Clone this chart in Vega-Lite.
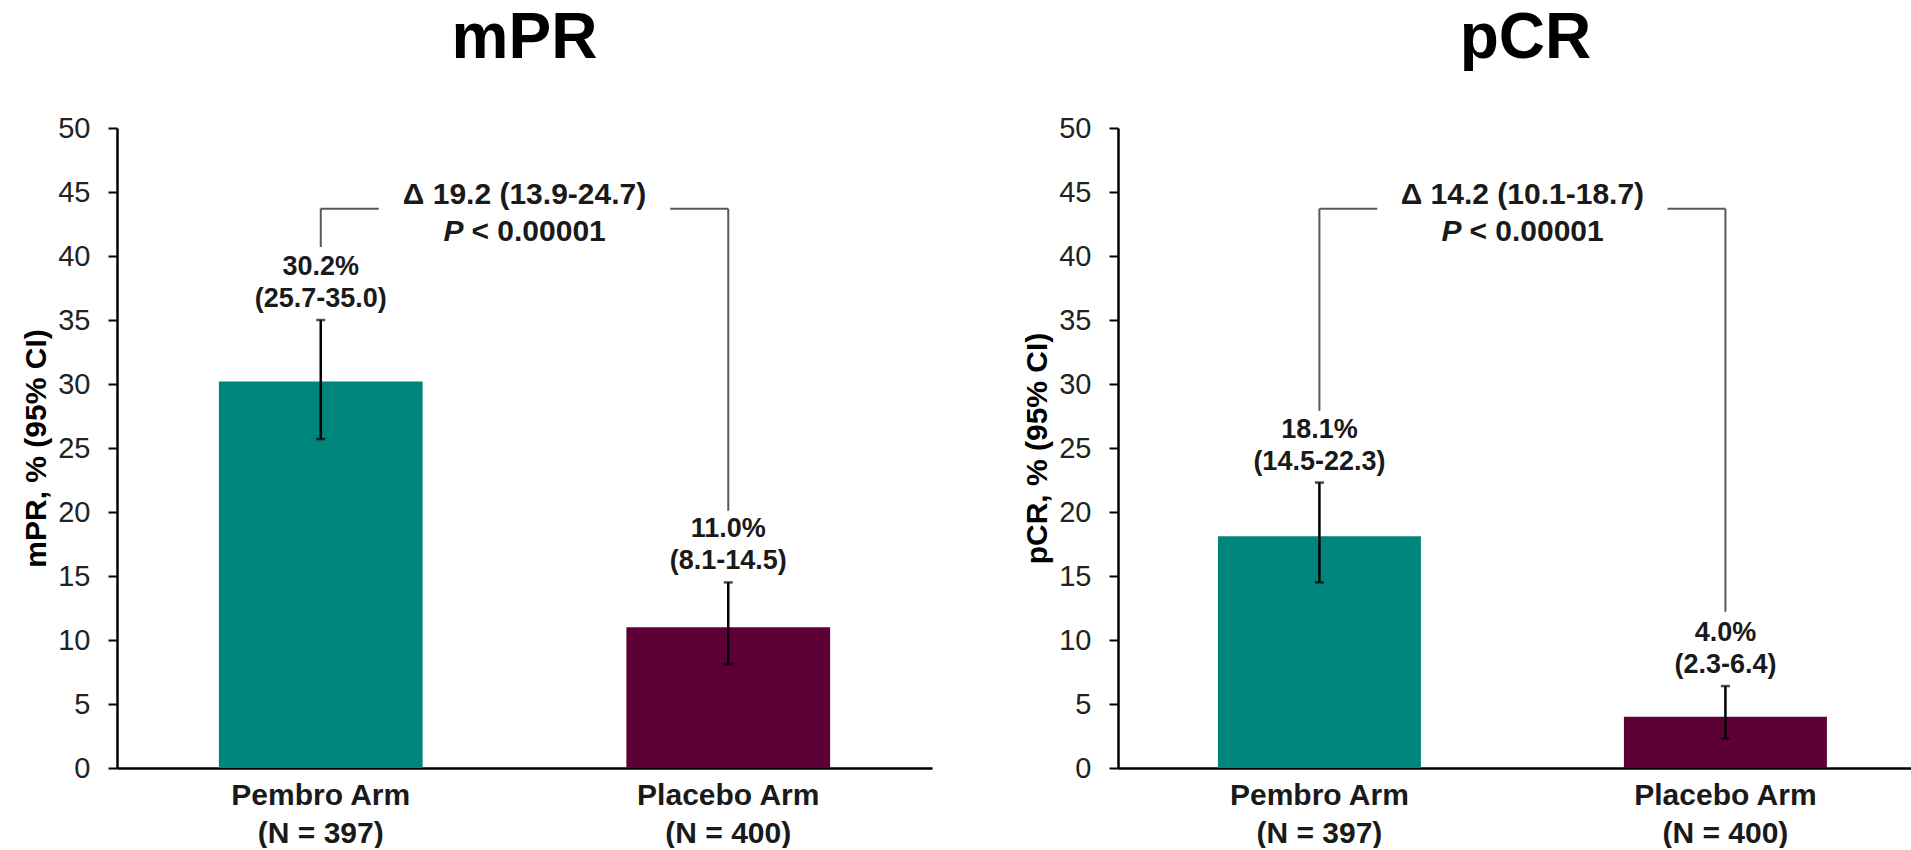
{
  "$schema": "https://vega.github.io/schema/vega-lite/v6.json",
  "background": "white",
  "padding": {"left": 21, "top": 7, "right": 0, "bottom": 0},
  "spacing": 90,
  "datasets": {
    "arms": [
      {"endpoint": "mPR", "arm": "Pembro Arm\n(N = 397)", "rate": 30.2, "lo": 25.7, "hi": 35.0},
      {"endpoint": "mPR", "arm": "Placebo Arm\n(N = 400)", "rate": 11.0, "lo": 8.1, "hi": 14.5},
      {"endpoint": "pCR", "arm": "Pembro Arm\n(N = 397)", "rate": 18.1, "lo": 14.5, "hi": 22.3},
      {"endpoint": "pCR", "arm": "Placebo Arm\n(N = 400)", "rate": 4.0, "lo": 2.3, "hi": 6.4}
    ],
    "legs": [
      {"endpoint": "mPR", "arm": "Pembro Arm\n(N = 397)", "y0": 40.7, "y1": 43.7},
      {"endpoint": "mPR", "arm": "Placebo Arm\n(N = 400)", "y0": 20.1, "y1": 43.7},
      {"endpoint": "pCR", "arm": "Pembro Arm\n(N = 397)", "y0": 27.9, "y1": 43.7},
      {"endpoint": "pCR", "arm": "Placebo Arm\n(N = 400)", "y0": 12.2, "y1": 43.7}
    ],
    "deltas": [
      {"endpoint": "mPR", "arm": "Pembro Arm\n(N = 397)", "y": 43.7, "delta": 19.2, "lo": 13.9, "hi": 24.7, "p": "< 0.00001"},
      {"endpoint": "pCR", "arm": "Pembro Arm\n(N = 397)", "y": 43.7, "delta": 14.2, "lo": 10.1, "hi": 18.7, "p": "< 0.00001"}
    ]
  },
  "config": {
    "font": "Liberation Sans",
    "view": {"stroke": null},
    "title": {"fontSize": 64, "fontWeight": "bold", "color": "#000000", "anchor": "middle", "frame": "group", "offset": 43},
    "axisX": {
      "domainColor": "#000000", "domainWidth": 2.5, "ticks": false, "labelAngle": 0,
      "labelFontSize": 30, "labelFontWeight": "bold", "labelColor": "#1a1a1a", "labelLimit": 600,
      "labelPadding": 12, "labelLineHeight": 38, "grid": false, "title": null
    },
    "axisY": {
      "domainColor": "#000000", "domainWidth": 2.5, "tickColor": "#000000", "tickWidth": 2, "tickSize": 9,
      "labelFontSize": 29, "labelColor": "#222222", "labelPadding": 18, "grid": false,
      "titleFontSize": 30, "titleFontWeight": "bold", "titleColor": "#000000", "titlePadding": 6
    }
  },
  "hconcat": [
    {
      "width": 815,
      "height": 640,
      "title": {"text": "mPR"},
      "layer": [
        {
          "data": {"name": "arms"},
          "transform": [{"filter": "datum.endpoint === 'mPR'"}],
          "mark": {"type": "bar"},
          "encoding": {
            "x": {"field": "arm", "type": "nominal",
              "scale": {"domain": ["Pembro Arm\n(N = 397)", "Placebo Arm\n(N = 400)"], "paddingInner": 0.5, "paddingOuter": 0.25, "align": 0.5},
              "axis": {"labelExpr": "split(datum.value, '\\n')"}},
            "y": {"field": "rate", "type": "quantitative", "scale": {"domain": [0, 50], "nice": false},
              "axis": {"values": [0, 5, 10, 15, 20, 25, 30, 35, 40, 45, 50], "title": "mPR, % (95% CI)"}},
            "color": {"field": "arm", "type": "nominal",
              "scale": {"domain": ["Pembro Arm\n(N = 397)", "Placebo Arm\n(N = 400)"], "range": ["#00857C", "#5C0035"]}, "legend": null}
          }
        },
        {
          "data": {"name": "arms"},
          "transform": [{"filter": "datum.endpoint === 'mPR'"}],
          "mark": {"type": "rule", "color": "#000000", "strokeWidth": 2.5},
          "encoding": {
            "x": {"field": "arm", "type": "nominal"},
            "y": {"field": "lo", "type": "quantitative"},
            "y2": {"field": "hi"}
          }
        },
        {
          "data": {"name": "arms"},
          "transform": [{"filter": "datum.endpoint === 'mPR'"}],
          "mark": {"type": "tick", "color": "#000000", "thickness": 2.5, "size": 9},
          "encoding": {
            "x": {"field": "arm", "type": "nominal"},
            "y": {"field": "hi", "type": "quantitative"}
          }
        },
        {
          "data": {"name": "arms"},
          "transform": [{"filter": "datum.endpoint === 'mPR'"}],
          "mark": {"type": "tick", "color": "#000000", "thickness": 2.5, "size": 9},
          "encoding": {
            "x": {"field": "arm", "type": "nominal"},
            "y": {"field": "lo", "type": "quantitative"}
          }
        },
        {
          "data": {"name": "arms"},
          "transform": [
            {"filter": "datum.endpoint === 'mPR'"},
            {"calculate": "[format(datum.rate, '.1f') + '%', '(' + format(datum.lo, '.1f') + '-' + format(datum.hi, '.1f') + ')']", "as": "lab"}
          ],
          "mark": {"type": "text", "align": "center", "baseline": "bottom", "dy": -39, "fontSize": 27, "fontWeight": "bold", "lineHeight": 32, "color": "#1a1a1a"},
          "encoding": {
            "x": {"field": "arm", "type": "nominal"},
            "y": {"field": "hi", "type": "quantitative"},
            "text": {"field": "lab", "type": "nominal"}
          }
        },
        {
          "data": {"name": "legs"},
          "transform": [{"filter": "datum.endpoint === 'mPR'"}],
          "mark": {"type": "rule", "color": "#595959", "strokeWidth": 2},
          "encoding": {
            "x": {"field": "arm", "type": "nominal"},
            "y": {"field": "y0", "type": "quantitative"},
            "y2": {"field": "y1"}
          }
        },
        {
          "data": {"name": "legs"},
          "transform": [{"filter": "datum.endpoint === 'mPR' && indexof(datum.arm, 'Pembro') === 0"}],
          "mark": {"type": "rule", "color": "#595959", "strokeWidth": 2},
          "encoding": {
            "x": {"field": "arm", "type": "nominal", "bandPosition": 0.5},
            "x2": {"field": "arm", "bandPosition": 0.785},
            "y": {"field": "y1", "type": "quantitative"}
          }
        },
        {
          "data": {"name": "legs"},
          "transform": [{"filter": "datum.endpoint === 'mPR' && indexof(datum.arm, 'Placebo') === 0"}],
          "mark": {"type": "rule", "color": "#595959", "strokeWidth": 2},
          "encoding": {
            "x": {"field": "arm", "type": "nominal", "bandPosition": 0.215},
            "x2": {"field": "arm", "bandPosition": 0.5},
            "y": {"field": "y1", "type": "quantitative"}
          }
        },
        {
          "data": {"name": "deltas"},
          "transform": [
            {"filter": "datum.endpoint === 'mPR'"},
            {"calculate": "'\u0394 ' + format(datum.delta, '.1f') + ' (' + format(datum.lo, '.1f') + '-' + format(datum.hi, '.1f') + ')'", "as": "lab"}
          ],
          "mark": {"type": "text", "align": "center", "baseline": "alphabetic", "dy": -5, "fontSize": 30, "fontWeight": "bold", "color": "#1a1a1a"},
          "encoding": {
            "x": {"field": "arm", "type": "nominal", "bandPosition": 1.5},
            "y": {"field": "y", "type": "quantitative"},
            "text": {"field": "lab", "type": "nominal"}
          }
        },
        {
          "data": {"name": "deltas"},
          "transform": [{"filter": "datum.endpoint === 'mPR'"}],
          "mark": {"type": "text", "align": "right", "baseline": "alphabetic", "dy": 32, "dx": -61, "fontSize": 30, "fontWeight": "bold", "fontStyle": "italic", "color": "#1a1a1a", "text": "P"},
          "encoding": {
            "x": {"field": "arm", "type": "nominal", "bandPosition": 1.5},
            "y": {"field": "y", "type": "quantitative"}
          }
        },
        {
          "data": {"name": "deltas"},
          "transform": [{"filter": "datum.endpoint === 'mPR'"}],
          "mark": {"type": "text", "align": "left", "baseline": "alphabetic", "dy": 32, "dx": -53, "fontSize": 30, "fontWeight": "bold", "color": "#1a1a1a"},
          "encoding": {
            "x": {"field": "arm", "type": "nominal", "bandPosition": 1.5},
            "y": {"field": "y", "type": "quantitative"},
            "text": {"field": "p", "type": "nominal"}
          }
        }
      ]
    },
    {
      "width": 793,
      "height": 640,
      "title": {"text": "pCR", "dx": 11},
      "layer": [
        {
          "data": {"name": "arms"},
          "transform": [{"filter": "datum.endpoint === 'pCR'"}],
          "mark": {"type": "bar"},
          "encoding": {
            "x": {"field": "arm", "type": "nominal",
              "scale": {"domain": ["Pembro Arm\n(N = 397)", "Placebo Arm\n(N = 400)"], "paddingInner": 0.5, "paddingOuter": 0.2266, "align": 0.543},
              "axis": {"labelExpr": "split(datum.value, '\\n')"}},
            "y": {"field": "rate", "type": "quantitative", "scale": {"domain": [0, 50], "nice": false},
              "axis": {"values": [0, 5, 10, 15, 20, 25, 30, 35, 40, 45, 50], "title": "pCR, % (95% CI)"}},
            "color": {"field": "arm", "type": "nominal",
              "scale": {"domain": ["Pembro Arm\n(N = 397)", "Placebo Arm\n(N = 400)"], "range": ["#00857C", "#5C0035"]}, "legend": null}
          }
        },
        {
          "data": {"name": "arms"},
          "transform": [{"filter": "datum.endpoint === 'pCR'"}],
          "mark": {"type": "rule", "color": "#000000", "strokeWidth": 2.5},
          "encoding": {
            "x": {"field": "arm", "type": "nominal"},
            "y": {"field": "lo", "type": "quantitative"},
            "y2": {"field": "hi"}
          }
        },
        {
          "data": {"name": "arms"},
          "transform": [{"filter": "datum.endpoint === 'pCR'"}],
          "mark": {"type": "tick", "color": "#000000", "thickness": 2.5, "size": 9},
          "encoding": {
            "x": {"field": "arm", "type": "nominal"},
            "y": {"field": "hi", "type": "quantitative"}
          }
        },
        {
          "data": {"name": "arms"},
          "transform": [{"filter": "datum.endpoint === 'pCR'"}],
          "mark": {"type": "tick", "color": "#000000", "thickness": 2.5, "size": 9},
          "encoding": {
            "x": {"field": "arm", "type": "nominal"},
            "y": {"field": "lo", "type": "quantitative"}
          }
        },
        {
          "data": {"name": "arms"},
          "transform": [
            {"filter": "datum.endpoint === 'pCR'"},
            {"calculate": "[format(datum.rate, '.1f') + '%', '(' + format(datum.lo, '.1f') + '-' + format(datum.hi, '.1f') + ')']", "as": "lab"}
          ],
          "mark": {"type": "text", "align": "center", "baseline": "bottom", "dy": -39, "fontSize": 27, "fontWeight": "bold", "lineHeight": 32, "color": "#1a1a1a"},
          "encoding": {
            "x": {"field": "arm", "type": "nominal"},
            "y": {"field": "hi", "type": "quantitative"},
            "text": {"field": "lab", "type": "nominal"}
          }
        },
        {
          "data": {"name": "legs"},
          "transform": [{"filter": "datum.endpoint === 'pCR'"}],
          "mark": {"type": "rule", "color": "#595959", "strokeWidth": 2},
          "encoding": {
            "x": {"field": "arm", "type": "nominal"},
            "y": {"field": "y0", "type": "quantitative"},
            "y2": {"field": "y1"}
          }
        },
        {
          "data": {"name": "legs"},
          "transform": [{"filter": "datum.endpoint === 'pCR' && indexof(datum.arm, 'Pembro') === 0"}],
          "mark": {"type": "rule", "color": "#595959", "strokeWidth": 2},
          "encoding": {
            "x": {"field": "arm", "type": "nominal", "bandPosition": 0.5},
            "x2": {"field": "arm", "bandPosition": 0.785},
            "y": {"field": "y1", "type": "quantitative"}
          }
        },
        {
          "data": {"name": "legs"},
          "transform": [{"filter": "datum.endpoint === 'pCR' && indexof(datum.arm, 'Placebo') === 0"}],
          "mark": {"type": "rule", "color": "#595959", "strokeWidth": 2},
          "encoding": {
            "x": {"field": "arm", "type": "nominal", "bandPosition": 0.215},
            "x2": {"field": "arm", "bandPosition": 0.5},
            "y": {"field": "y1", "type": "quantitative"}
          }
        },
        {
          "data": {"name": "deltas"},
          "transform": [
            {"filter": "datum.endpoint === 'pCR'"},
            {"calculate": "'\u0394 ' + format(datum.delta, '.1f') + ' (' + format(datum.lo, '.1f') + '-' + format(datum.hi, '.1f') + ')'", "as": "lab"}
          ],
          "mark": {"type": "text", "align": "center", "baseline": "alphabetic", "dy": -5, "fontSize": 30, "fontWeight": "bold", "color": "#1a1a1a"},
          "encoding": {
            "x": {"field": "arm", "type": "nominal", "bandPosition": 1.5},
            "y": {"field": "y", "type": "quantitative"},
            "text": {"field": "lab", "type": "nominal"}
          }
        },
        {
          "data": {"name": "deltas"},
          "transform": [{"filter": "datum.endpoint === 'pCR'"}],
          "mark": {"type": "text", "align": "right", "baseline": "alphabetic", "dy": 32, "dx": -61, "fontSize": 30, "fontWeight": "bold", "fontStyle": "italic", "color": "#1a1a1a", "text": "P"},
          "encoding": {
            "x": {"field": "arm", "type": "nominal", "bandPosition": 1.5},
            "y": {"field": "y", "type": "quantitative"}
          }
        },
        {
          "data": {"name": "deltas"},
          "transform": [{"filter": "datum.endpoint === 'pCR'"}],
          "mark": {"type": "text", "align": "left", "baseline": "alphabetic", "dy": 32, "dx": -53, "fontSize": 30, "fontWeight": "bold", "color": "#1a1a1a"},
          "encoding": {
            "x": {"field": "arm", "type": "nominal", "bandPosition": 1.5},
            "y": {"field": "y", "type": "quantitative"},
            "text": {"field": "p", "type": "nominal"}
          }
        }
      ]
    }
  ]
}
